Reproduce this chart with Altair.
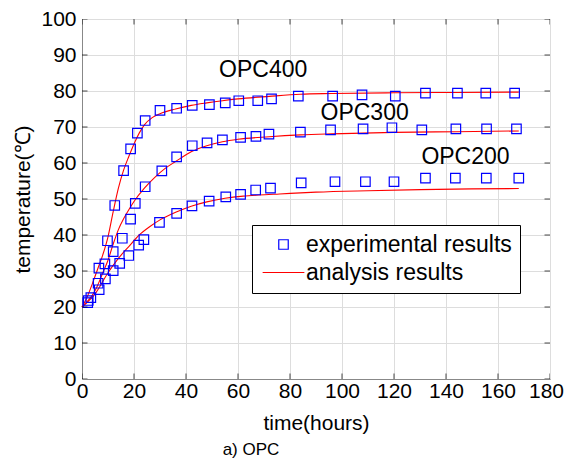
import altair as alt
import pandas as pd

# ---- data ----
series_names = ["OPC400", "OPC300", "OPC200"]

exp_t_400 = [3.4, 6.5, 9.8, 12.6, 16.0, 18.7, 21.3, 24.3, 30.0, 36.4, 42.4, 49.0, 55.1, 60.3, 67.6, 72.9, 83.2, 96.4, 107.7, 120.5, 132.1, 144.4, 155.3, 166.4]
exp_T_400 = [22.6, 30.8, 38.4, 48.2, 57.9, 63.9, 68.3, 71.8, 74.6, 75.2, 76.0, 76.2, 76.7, 77.3, 77.3, 77.8, 78.6, 78.6, 78.9, 78.6, 79.4, 79.4, 79.4, 79.4]

exp_t_300 = [2.4, 6.2, 8.8, 12.0, 15.5, 18.7, 20.5, 24.3, 30.7, 36.4, 42.4, 48.1, 54.0, 61.0, 66.9, 71.9, 84.0, 95.6, 108.1, 119.2, 130.7, 143.8, 155.6, 167.1]
exp_T_300 = [21.8, 26.6, 32.0, 35.4, 39.1, 44.4, 48.8, 53.4, 57.8, 61.7, 64.8, 65.6, 66.4, 67.1, 67.4, 68.0, 68.6, 69.2, 69.5, 69.8, 69.2, 69.5, 69.5, 69.5]

exp_t_200 = [2.2, 6.6, 9.0, 12.0, 14.5, 18.0, 21.8, 23.8, 29.8, 36.4, 42.3, 48.9, 55.3, 61.0, 66.8, 72.5, 84.3, 97.3, 109.0, 120.0, 132.1, 143.6, 155.5, 168.0]
exp_T_200 = [21.2, 24.8, 27.8, 30.1, 32.1, 34.3, 37.2, 38.7, 43.5, 46.0, 48.1, 49.4, 50.6, 51.3, 52.5, 53.0, 54.5, 54.8, 54.8, 54.8, 55.8, 55.8, 55.8, 55.8]

ana_t_400 = [0, 2, 4, 6, 8, 10, 12, 14, 16, 18, 20, 22, 24, 27, 30, 36, 42, 48, 54, 60, 72, 84, 96, 120, 144, 168]
ana_T_400 = [20, 22.8, 26.5, 30.5, 34.5, 39.5, 46.5, 53, 58, 61.8, 65.3, 68.3, 70.6, 72.6, 73.7, 75.0, 76.0, 76.7, 77.3, 77.8, 78.5, 79.1, 79.3, 79.5, 79.6, 79.7]

ana_t_300 = [0, 2, 4, 6, 8, 10, 12, 14, 16, 18, 20, 24, 28, 32, 36, 42, 48, 54, 60, 72, 84, 96, 120, 144, 168]
ana_T_300 = [20, 21.5, 23.3, 26, 29.5, 33, 37.5, 41.5, 44.5, 47, 49.3, 53, 56, 58.5, 60.4, 63.1, 64.8, 65.9, 66.6, 67.3, 67.8, 68.1, 68.5, 68.7, 68.9]

ana_t_200 = [0, 2, 5, 10, 14, 18, 22, 26, 30, 36, 42, 48, 55, 62, 68, 76, 90, 110, 130, 150, 168]
ana_T_200 = [20, 21.3, 23.6, 29.5, 33.5, 36.8, 40, 42.3, 44.2, 46.3, 48, 49.2, 50.2, 50.8, 51.1, 51.4, 51.9, 52.3, 52.6, 52.8, 52.9]

label_text = ["OPC400", "OPC300", "OPC200"]
label_t = [69.7, 108.7, 147.5]
label_T = [85.9, 73.9, 61.7]

x_ticks = [0, 20, 40, 60, 80, 100, 120, 140, 160, 180]
y_ticks = [0, 10, 20, 30, 40, 50, 60, 70, 80, 90, 100]

kinds = ["experimental results", "analysis results"]

# ---- tables ----
def build(ts, Ts, kind):
    rows = []
    for name, t, T in zip(series_names, ts, Ts):
        for a, b in zip(t, T):
            rows.append({"t": a, "T": b, "series": name, "kind": kind})
    return pd.DataFrame(rows)

exp_df = build([exp_t_400, exp_t_300, exp_t_200], [exp_T_400, exp_T_300, exp_T_200], kinds[0])
ana_df = build([ana_t_400, ana_t_300, ana_t_200], [ana_T_400, ana_T_300, ana_T_200], kinds[1])
lab_df = pd.DataFrame({"t": label_t, "T": label_T, "text": label_text})

xt_df = pd.DataFrame([{"t": v, "T": e} for v in x_ticks for e in (0, 100)])
yt_df = pd.DataFrame([{"t": e, "T": v} for v in y_ticks for e in (0, 180)])

FONT = "Liberation Sans"

xscale = alt.Scale(domain=[0, 180], nice=False)
yscale = alt.Scale(domain=[0, 100], nice=False)

x_axis = alt.Axis(title="time(hours)", values=x_ticks, labelFontSize=21,
                  titleFontSize=21, titleFontWeight="normal",
                  labelPadding=1, titlePadding=11, tickSize=0,
                  labelFlush=False, labelOverlap=False,
                  labelOffset=alt.condition("datum.value == 180",
                                            alt.value(-4), alt.value(0)))
y_axis = alt.Axis(title="temperature(℃)", values=y_ticks, labelFontSize=21,
                  titleFontSize=21, titleFontWeight="normal",
                  labelPadding=6, titlePadding=7, tickSize=0,
                  labelFlush=False, labelOverlap=False)

def X():
    return alt.X("t:Q", scale=xscale, axis=x_axis)

def Y():
    return alt.Y("T:Q", scale=yscale, axis=y_axis)

color_scale = alt.Scale(domain=kinds, range=["#0000ff", "#ff0000"])
shape_scale = alt.Scale(domain=kinds, range=["square", "M-4.4,0H4.4"])

legend = alt.Legend(title=None, orient="none", legendX=170, legendY=206,
                    labelFontSize=23, labelFont=FONT, labelLimit=400,
                    symbolSize=90, symbolStrokeWidth=1.2, symbolOffset=12,
                    labelOffset=11, padding=8, rowPadding=4,
                    strokeColor="black", fillColor="white", labelColor="black")

points = alt.Chart(exp_df).mark_point(shape="square", filled=False, size=90,
                                      strokeWidth=1.2, opacity=1).encode(
    x=X(), y=Y(),
    color=alt.Color("kind:N", scale=color_scale, legend=legend),
    shape=alt.Shape("kind:N", scale=shape_scale, legend=legend),
    detail="series:N",
)

lines = alt.Chart(ana_df).mark_line(strokeWidth=1.1, interpolate="monotone").encode(
    x=X(), y=Y(),
    color=alt.Color("kind:N", scale=color_scale, legend=legend),
    detail="series:N",
    order="t:Q",
)

labels = alt.Chart(lab_df).mark_text(font=FONT, fontSize=23, color="black").encode(
    x=X(), y=Y(), text="text:N")

xticks = alt.Chart(xt_df).mark_tick(orient="vertical", size=11, thickness=1,
                                    color="black", clip=True).encode(x=X(), y=Y())
yticks = alt.Chart(yt_df).mark_tick(orient="horizontal", size=11, thickness=1,
                                    color="black", clip=True).encode(x=X(), y=Y())

chart = alt.layer(lines, points, labels, xticks, yticks).properties(
    width=468, height=360,
    autosize=alt.AutoSizeParams(type="none"),
    padding={"left": 74, "top": 11, "right": 14, "bottom": 80},
    title=alt.TitleParams(text="a) OPC", orient="bottom", fontSize=17,
                          fontWeight="normal", font=FONT, color="black",
                          dx=-65, offset=9),
).configure_view(stroke="black", strokeWidth=1).configure_axis(
    grid=False, domain=False, ticks=False, labelFont=FONT, titleFont=FONT,
    labelColor="black", titleColor="black", labelOverlap=False,
).configure(background="white")

chart.save("out.html", embed_options={"renderer": "svg", "actions": False})
